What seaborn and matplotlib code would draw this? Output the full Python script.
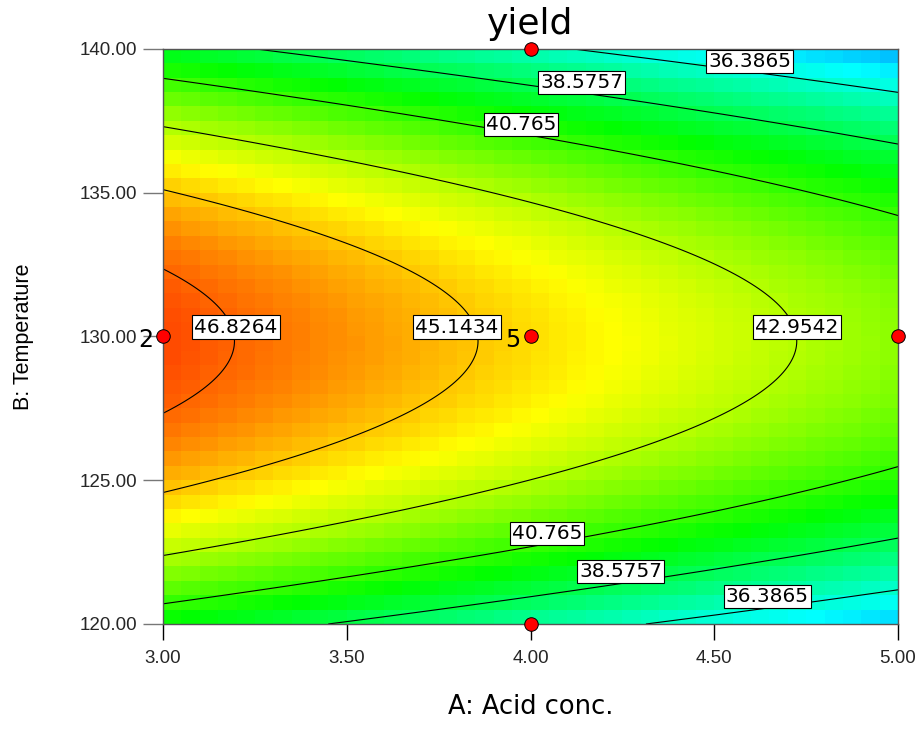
import numpy as np
import matplotlib
matplotlib.use("Agg")
import matplotlib.pyplot as plt
import seaborn as sns
from matplotlib.colors import ListedColormap, hsv_to_rgb, Normalize

# ---------------- data ----------------
acid_range = [3.0, 5.0]          # A: Acid conc. (low, high)
temp_range = [120.0, 140.0]      # B: Temperature (low, high)
# fitted quadratic response model in coded units: b0, bA, bB, bAA, bBB, bAB
model_coef = [44.78, -2.53, -0.25, 0.01, -7.85, 0.0]
contour_levels = [36.3865, 38.5757, 40.765, 42.9542, 45.1434, 46.8264]

design_acid = [3.0, 4.0, 4.0, 4.0, 5.0]
design_temp = [130.0, 140.0, 130.0, 120.0, 130.0]
design_reps = [2, 1, 5, 1, 1]

x_ticks = [3.00, 3.50, 4.00, 4.50, 5.00]
y_ticks = [120.00, 125.00, 130.00, 135.00, 140.00]

# contour label placement (layout)
label_level = [36.3865, 38.5757, 40.765, 46.8264, 45.1434, 42.9542, 40.765, 38.5757, 36.3865]
label_acid = [4.597, 4.140, 3.974, 3.199, 3.800, 4.725, 4.045, 4.246, 4.644]
label_temp = [139.58, 138.85, 137.36, 130.33, 130.33, 130.33, 123.16, 121.81, 120.94]


def response(a, b):
    x = (a - np.mean(acid_range)) / ((acid_range[1] - acid_range[0]) / 2)
    y = (b - np.mean(temp_range)) / ((temp_range[1] - temp_range[0]) / 2)
    c = model_coef
    return c[0] + c[1] * x + c[2] * y + c[3] * x * x + c[4] * y * y + c[5] * x * y


sns.set_theme(style="white")
plt.rcParams["font.family"] = ["Liberation Sans", "DejaVu Sans"]

fig = plt.figure(figsize=(9.21, 7.51), dpi=100)
ax = fig.add_axes([163 / 921, 1 - 624 / 751, 735 / 921, 575 / 751])

# colour map: hue sweep from light blue to orange-red
hues = np.linspace(200, 17, 256) / 360.0
cmap = ListedColormap(hsv_to_rgb(np.stack([hues, np.ones(256), np.ones(256)], axis=1)))

fa = np.linspace(acid_range[0], acid_range[1], 241)
fb = np.linspace(temp_range[0], temp_range[1], 241)
FA, FB = np.meshgrid(fa, fb)
FZ = response(FA, FB)
norm = Normalize(vmin=FZ.min(), vmax=FZ.max())

# blocky colour cells (40 x 40)
ea = np.linspace(acid_range[0], acid_range[1], 41)
eb = np.linspace(temp_range[0], temp_range[1], 41)
ca = (ea[:-1] + ea[1:]) / 2
cb = (eb[:-1] + eb[1:]) / 2
CA, CB = np.meshgrid(ca, cb)
ax.pcolormesh(ea, eb, response(CA, CB), cmap=cmap, norm=norm, shading="flat",
              edgecolors="none", antialiased=False, zorder=1)

ax.contour(FA, FB, FZ, levels=sorted(contour_levels), colors="black",
           linewidths=0.8, zorder=2)

for lev, la, lt in zip(label_level, label_acid, label_temp):
    ax.text(la, lt, format(lev, ".6g"), ha="center", va="center", fontsize=14.5,
            family=["DejaVu Sans"], color="black", zorder=4,
            bbox=dict(boxstyle="square,pad=0.1", fc="white", ec="black", lw=0.8))

sns.scatterplot(x=design_acid, y=design_temp, ax=ax, color="#ff0000", s=95,
                edgecolor="black", linewidth=0.7, zorder=6, legend=False)
for coll in ax.collections[-1:]:
    coll.set_clip_on(False)

for a, b, n in zip(design_acid, design_temp, design_reps):
    if n > 1:
        ax.annotate(str(n), (a, b), xytext=(-7.0, -2.5), textcoords="offset points",
                    ha="right", va="center", fontsize=17, family=["DejaVu Sans"],
                    color="black", zorder=7, annotation_clip=False)

ax.set_xlim(acid_range)
ax.set_ylim(temp_range)
ax.set_xticks(x_ticks)
ax.set_yticks(y_ticks)
ax.set_xticklabels([f"{v:.2f}" for v in x_ticks], fontsize=13.5)
ax.set_yticklabels([f"{v:.2f}" for v in y_ticks], fontsize=13.5)
ax.tick_params(axis="x", direction="out", length=11.5, width=1, color="black", pad=7,
               bottom=True)
ax.tick_params(axis="y", direction="out", length=14.5, width=1, color="#777777", pad=4,
               left=True)
for s in ax.spines.values():
    s.set_color("#555555")
    s.set_linewidth(1)
    s.set_zorder(3)
ax.grid(False)

ax.set_title("yield", fontsize=26, family=["DejaVu Sans"], pad=11, color="black")
ax.set_xlabel("A: Acid conc.", fontsize=18.5, family=["DejaVu Sans"], labelpad=20, color="black")
ax.set_ylabel("B: Temperature", fontsize=15.5, labelpad=33, color="black")

fig.savefig("out.png", dpi=100)
